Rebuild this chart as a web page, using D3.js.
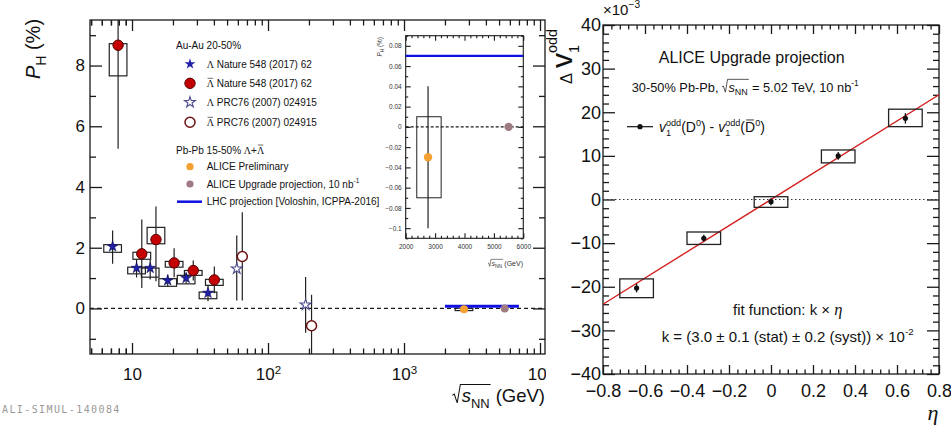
<!DOCTYPE html>
<html>
<head>
<meta charset="utf-8">
<script src="https://cdn.jsdelivr.net/npm/d3@7"></script>
<style>
  body { margin: 0; background: #fff; }
  svg text { white-space: pre; }
</style>
</head>
<body>
<div id="chart"></div>
<script>
// ---------------- left panel: P_H vs sqrt(s_NN) ----------------
// energies as plotted (points are drawn a bit off the nominal energy in the figure)
var lamE       = [7.2, 10.8, 13.6, 18.3, 25.0, 36.2];
var lamP       = [2.04, 1.33, 1.33, 0.92, 1.00, 0.51];
var lamStatHi  = [2.57, 1.62, 1.60, 1.12, 1.18, 0.78];
var lamStatLo  = [1.47, 1.02, 0.95, 0.72, 0.82, 0.24];
var lamSysHi   = [2.10, 1.36, 1.33, 0.98, 1.09, 0.54];
var lamSysLo   = [1.85, 1.14, 1.03, 0.73, 0.81, 0.32];

var alamE      = [7.9, 11.8, 15.0, 20.4, 28.2, 40.3];
var alamP      = [8.67, 1.80, 2.27, 1.50, 1.25, 0.94];
var alamStatHi = [12.0, 2.93, 3.36, 1.98, 1.58, 1.38];
var alamStatLo = [5.26, 0.67, 0.90, 1.03, 0.92, 0.50];
var alamSysHi  = [8.72, 1.85, 2.67, 1.55, 1.25, 0.96];
var alamSysLo  = [7.66, 1.62, 2.13, 1.36, 1.09, 0.76];

var prcLamE  = [58.9, 189], prcLamP  = [1.31, 0.12], prcLamHi  = [2.40, 1.04], prcLamLo  = [0.26, -0.80];
var prcAlamE = [64.7, 209], prcAlamP = [1.71, -0.57], prcAlamHi = [3.17, 0.45], prcAlamLo = [0.26, -1.60];

var prelE = [2760], prelP = [-0.03], prelHi = [0.04], prelLo = [-0.10], prelSysHi = [0.01], prelSysLo = [-0.07];
var upgE = [5500], upgP = [0.0];
var lhcE = [2000, 7000], lhcP = 0.07;

var leftXMajor = [10, 100, 1000, 10000];
var leftYMajor = [0, 2, 4, 6, 8];
var leftYMinor = [-1, 1, 3, 5, 7, 9];
var insetXMajor = [2000, 3000, 4000, 5000, 6000];
var insetYMajor = [-0.1, -0.08, -0.06, -0.04, -0.02, 0, 0.02, 0.04, 0.06, 0.08];

// ---------------- right panel: delta v1 odd vs eta ----------------
var eta      = [-0.64, -0.32, 0, 0.32, 0.64];
var dv1      = [-20.3, -8.9, -0.5, 10.0, 18.6];   // x 10^-3
var dv1Stat  = [1.0, 0.8, 0.8, 0.9, 1.2];
var dv1SysHi = [-18.2, -7.45, 0.64, 11.35, 20.7];
var dv1SysLo = [-22.5, -10.3, -1.8, 8.4, 16.7];
var fitK = 30;   // k = 3.0e-2, in units of 1e-3
var rightXMajor = [-0.8, -0.6, -0.4, -0.2, 0, 0.2, 0.4, 0.6, 0.8];
var rightYMajor = [-40, -30, -20, -10, 0, 10, 20, 30, 40];

var W = 951, H = 426;
var SANS = '"Liberation Sans", Arial, sans-serif';
var SERIF = '"Liberation Serif", "Times New Roman", serif';

var svg = d3.select("#chart").append("svg")
  .attr("width", W).attr("height", H)
  .attr("font-family", SANS);
svg.append("rect").attr("width", W).attr("height", H).attr("fill", "#fff");

// text with sub/superscripts, bars and radicals, laid out piece by piece
function rich(parent, x, y, fs, parts, o) {
  o = o || {};
  var col = o.fill || "#111";
  var g = parent.append("g");
  var inner = g.append("g");
  var cx = 0, pStart = 0, pEnd = 0, radX = 0;
  parts.forEach(function(p) {
    if (typeof p === "string") p = {t: p};
    var size = fs * (p.s || 1), by = (p.dy || 0) * fs;
    if (p.rad === "start") { radX = cx; cx += fs * 0.5; return; }
    if (p.rad === "end") {
      var h = fs * 0.95, r = radX;
      inner.append("path")
        .attr("d", "M" + r + "," + (-fs * 0.36) + "L" + (r + fs * 0.1) + "," + (-fs * 0.43) +
          "L" + (r + fs * 0.26) + "," + (fs * 0.05) + "L" + (r + fs * 0.43) + "," + (-h) +
          "L" + (cx + 1) + "," + (-h))
        .attr("fill", "none").attr("stroke", col).attr("stroke-width", Math.max(0.6, fs * 0.055));
      cx += fs * 0.05;
      return;
    }
    var sx = p.stack ? pStart : cx;
    var t = inner.append("text").attr("x", sx).attr("y", by)
      .attr("font-size", size).attr("fill", col).text(p.t);
    if (p.it) t.attr("font-style", "italic");
    if (p.f) t.attr("font-family", p.f);
    var w = t.node().getComputedTextLength();
    if (p.bar) {
      inner.append("line")
        .attr("x1", sx + w * 0.12).attr("x2", sx + w * 0.88)
        .attr("y1", by - size * 0.86).attr("y2", by - size * 0.86)
        .attr("stroke", col).attr("stroke-width", Math.max(0.6, size * 0.06));
    }
    if (p.stack) cx = Math.max(pEnd, sx + w);
    else { pStart = sx; pEnd = sx + w; cx = sx + w; }
  });
  var a = o.anchor === "end" ? 1 : o.anchor === "middle" ? 0.5 : 0;
  g.attr("transform", "translate(" + x + "," + y + ")" + (o.rot ? " rotate(" + o.rot + ")" : ""));
  inner.attr("transform", "translate(" + (-cx * a) + ",0)");
  return cx;
}

// ROOT-like frame: ticks inward on all four sides
function frameAxes(g, x, y, o) {
  var x0 = x.range()[0], x1 = x.range()[1], yb = y.range()[0], yt = y.range()[1];
  function add(axis, tx, ty) {
    var a = g.append("g").attr("transform", "translate(" + tx + "," + ty + ")").call(axis);
    a.select(".domain").remove();
    a.selectAll("line").attr("stroke", o.color).attr("stroke-width", o.sw);
    a.attr("font-family", o.font || SANS).attr("font-size", o.fs);
    a.selectAll("text").attr("fill", o.textColor || "#111");
    return a;
  }
  var bx = add(d3.axisBottom(x).tickValues(o.xMaj).tickSize(-o.xLen).tickSizeOuter(0)
    .tickPadding(o.xPad).tickFormat(o.xFmt), 0, yb);
  add(d3.axisBottom(x).tickValues(o.xMin).tickSize(-o.xLen / 2).tickSizeOuter(0).tickFormat(""), 0, yb);
  add(d3.axisTop(x).tickValues(o.xMaj).tickSize(-o.xLen).tickSizeOuter(0).tickFormat(""), 0, yt);
  add(d3.axisTop(x).tickValues(o.xMin).tickSize(-o.xLen / 2).tickSizeOuter(0).tickFormat(""), 0, yt);
  var ly = add(d3.axisLeft(y).tickValues(o.yMaj).tickSize(-o.yLen).tickSizeOuter(0)
    .tickPadding(o.yPad).tickFormat(o.yFmt), x0, 0);
  add(d3.axisLeft(y).tickValues(o.yMin).tickSize(-o.yLen / 2).tickSizeOuter(0).tickFormat(""), x0, 0);
  add(d3.axisRight(y).tickValues(o.yMaj).tickSize(-o.yLen).tickSizeOuter(0).tickFormat(""), x1, 0);
  add(d3.axisRight(y).tickValues(o.yMin).tickSize(-o.yLen / 2).tickSizeOuter(0).tickFormat(""), x1, 0);
  g.append("rect").attr("x", x0).attr("y", yt).attr("width", x1 - x0).attr("height", yb - yt)
    .attr("fill", "none").attr("stroke", o.color).attr("stroke-width", o.sw);
  return {bx: bx, ly: ly};
}

var dark = "#1a1a1a";

// ================= LEFT PANEL =================
var xL = d3.scaleLog().domain([4.91, 10880]).range([90, 545]);
var yL = d3.scaleLinear().domain([-1.5, 9.5]).range([354, 20]);
var left = svg.append("g");

var xMinorL = [];
[1, 10, 100, 1000].forEach(function(dec) {
  d3.range(2, 10).forEach(function(k) { xMinorL.push(k * dec); });
});
xMinorL = xMinorL.concat([5, 6, 7, 8, 9]).filter(function(v) { return v > 4.91 && v < 10880 && v !== 10; });

var axL = frameAxes(left, xL, yL, {
  xMaj: leftXMajor, xMin: xMinorL, xLen: 11, xPad: 14, xFmt: function(d) { return ""; },
  yMaj: leftYMajor, yMin: leftYMinor, yLen: 12, yPad: 5, yFmt: d3.format("d"),
  color: dark, sw: 1.3, fs: 17
});
axL.bx.selectAll("text").each(function(d) {
  var e = Math.round(Math.log10(d));
  var t = d3.select(this).text("10");
  if (e > 1) t.append("tspan").attr("dy", "-0.5em").attr("font-size", "0.68em").text(e);
});

var clipL = svg.append("clipPath").attr("id", "clipL").append("rect")
  .attr("x", 90).attr("y", 20).attr("width", 455).attr("height", 334);
var plotL = left.append("g").attr("clip-path", "url(#clipL)");

plotL.append("line")
  .attr("x1", 90).attr("x2", 545).attr("y1", yL(0)).attr("y2", yL(0))
  .attr("stroke", dark).attr("stroke-width", 1.3).attr("stroke-dasharray", "4,3");

var boxHalf = 0.065;   // half width of syst. boxes in decades
function sysBoxes(g, xs, hi, lo, xsc, ysc) {
  g.selectAll(null).data(xs).enter().append("rect")
    .attr("x", function(d) { return xsc(d * Math.pow(10, -boxHalf)); })
    .attr("width", function(d) { return xsc(d * Math.pow(10, boxHalf)) - xsc(d * Math.pow(10, -boxHalf)); })
    .attr("y", function(d, i) { return ysc(hi[i]); })
    .attr("height", function(d, i) { return ysc(lo[i]) - ysc(hi[i]); })
    .attr("fill", "none").attr("stroke", "#222").attr("stroke-width", 1.2);
}
function statBars(g, xs, hi, lo, xsc, ysc, sw) {
  g.selectAll(null).data(xs).enter().append("line")
    .attr("x1", function(d) { return xsc(d); }).attr("x2", function(d) { return xsc(d); })
    .attr("y1", function(d, i) { return ysc(hi[i]); }).attr("y2", function(d, i) { return ysc(lo[i]); })
    .attr("stroke", "#222").attr("stroke-width", sw || 1.2);
}

sysBoxes(plotL, lamE, lamSysHi, lamSysLo, xL, yL);
sysBoxes(plotL, alamE, alamSysHi, alamSysLo, xL, yL);
sysBoxes(plotL, prelE, prelSysHi, prelSysLo, xL, yL);
statBars(plotL, lamE, lamStatHi, lamStatLo, xL, yL);
statBars(plotL, alamE, alamStatHi, alamStatLo, xL, yL);
statBars(plotL, prcLamE, prcLamHi, prcLamLo, xL, yL);
statBars(plotL, prcAlamE, prcAlamHi, prcAlamLo, xL, yL);

var star = d3.symbol().type(d3.symbolStar).size(36);
var colBlue = "#2020a8", colRed = "#c40000", colOrange = "#f4a132", colMauve = "#9e7b82", colLine = "#1010e0";

plotL.append("line")
  .attr("x1", xL(lhcE[0])).attr("x2", xL(lhcE[1])).attr("y1", yL(lhcP)).attr("y2", yL(lhcP))
  .attr("stroke", colLine).attr("stroke-width", 3);

plotL.selectAll(null).data(lamE).enter().append("path").attr("d", star)
  .attr("transform", function(d, i) { return "translate(" + xL(d) + "," + yL(lamP[i]) + ")"; })
  .attr("fill", colBlue).attr("stroke", "#0b0b55").attr("stroke-width", 0.6);
plotL.selectAll(null).data(alamE).enter().append("circle")
  .attr("cx", function(d) { return xL(d); }).attr("cy", function(d, i) { return yL(alamP[i]); })
  .attr("r", 5.2).attr("fill", colRed).attr("stroke", "#500").attr("stroke-width", 1);
plotL.selectAll(null).data(prcLamE).enter().append("path").attr("d", star)
  .attr("transform", function(d, i) { return "translate(" + xL(d) + "," + yL(prcLamP[i]) + ")"; })
  .attr("fill", "#fff").attr("stroke", "#4a4a8c").attr("stroke-width", 1.1);
plotL.selectAll(null).data(prcAlamE).enter().append("circle")
  .attr("cx", function(d) { return xL(d); }).attr("cy", function(d, i) { return yL(prcAlamP[i]); })
  .attr("r", 5).attr("fill", "#fff").attr("stroke", "#6b1010").attr("stroke-width", 1.5);
plotL.selectAll(null).data(prelE).enter().append("circle")
  .attr("cx", function(d) { return xL(d); }).attr("cy", function(d, i) { return yL(prelP[i]); })
  .attr("r", 4).attr("fill", colOrange);
plotL.selectAll(null).data(upgE).enter().append("circle")
  .attr("cx", function(d) { return xL(d); }).attr("cy", function(d, i) { return yL(upgP[i]); })
  .attr("r", 4).attr("fill", colMauve);

// legend
var lg = left.append("g");
rich(lg, 176, 48.5, 10, ["Au-Au 20-50%"]);
var legRows = [
  {y: 64, mk: "star", parts: [{t: "Λ", f: SERIF}, " Nature 548 (2017) 62"]},
  {y: 83.3, mk: "circle", parts: [{t: "Λ", f: SERIF, bar: true}, " Nature 548 (2017) 62"]},
  {y: 102.3, mk: "ostar", parts: [{t: "Λ", f: SERIF}, " PRC76 (2007) 024915"]},
  {y: 122.3, mk: "ocircle", parts: [{t: "Λ", f: SERIF, bar: true}, " PRC76 (2007) 024915"]}
];
legRows.forEach(function(r) {
  if (r.mk === "star") lg.append("path").attr("d", star).attr("transform", "translate(190," + r.y + ")").attr("fill", colBlue);
  if (r.mk === "ostar") lg.append("path").attr("d", star).attr("transform", "translate(190," + r.y + ")").attr("fill", "#fff").attr("stroke", "#4a4a8c").attr("stroke-width", 1.1);
  if (r.mk === "circle") lg.append("circle").attr("cx", 190).attr("cy", r.y).attr("r", 5.2).attr("fill", colRed).attr("stroke", "#500");
  if (r.mk === "ocircle") lg.append("circle").attr("cx", 190).attr("cy", r.y).attr("r", 5).attr("fill", "#fff").attr("stroke", "#6b1010").attr("stroke-width", 1.5);
  rich(lg, 206.7, r.y + 3.6, 10, r.parts);
});
rich(lg, 176, 153.6, 10, ["Pb-Pb 15-50% ", {t: "Λ", f: SERIF}, "+", {t: "Λ", f: SERIF, bar: true}]);
lg.append("circle").attr("cx", 190).attr("cy", 166.7).attr("r", 3.6).attr("fill", colOrange);
rich(lg, 206.7, 170.3, 10, ["ALICE Preliminary"]);
lg.append("circle").attr("cx", 190).attr("cy", 184).attr("r", 3.6).attr("fill", colMauve);
rich(lg, 206.7, 187.6, 10, ["ALICE Upgrade projection, 10 nb", {t: "-1", s: 0.65, dy: -0.45}]);
lg.append("line").attr("x1", 177).attr("x2", 202).attr("y1", 201.7).attr("y2", 201.7)
  .attr("stroke", colLine).attr("stroke-width", 2.5);
rich(lg, 206.7, 205.3, 10, ["LHC projection [Voloshin, ICPPA-2016]"]);

// axis titles
rich(svg, 40, 49, 20, [{t: "P", it: true}, {t: "H", s: 0.7, dy: 0.3}, " (%)"], {anchor: "middle", rot: -90});
rich(svg, 545, 402, 18.5, [{rad: "start"}, {t: "s", it: true}, {t: "NN", s: 0.7, dy: 0.3}, {rad: "end"}, " (GeV)"], {anchor: "end"});

// ---------------- inset ----------------
var xI = d3.scaleLinear().domain([2000, 6000]).range([405.7, 523.3]);
var yI = d3.scaleLinear().domain([-0.11, 0.09]).range([238.3, 35.7]);
var inset = left.append("g");
inset.append("rect").attr("x", 405.7).attr("y", 35.7).attr("width", 117.6).attr("height", 202.6).attr("fill", "#fff");
var insetYMinor = d3.range(-11, 10).map(function(v) { return v / 100; })
  .filter(function(v) { return Math.abs(Math.round(v * 100)) % 2 === 1; });
var insetXMinor = d3.range(2000, 6001, 200).filter(function(v) { return v % 1000 !== 0; });
frameAxes(inset, xI, yI, {
  xMaj: insetXMajor, xMin: insetXMinor, xLen: 5, xPad: 6, xFmt: d3.format("d"),
  yMaj: insetYMajor, yMin: insetYMinor, yLen: 5, yPad: 4, yFmt: d3.format(".2~f"),
  color: dark, sw: 1.1, fs: 6.5, textColor: "#333"
});
inset.append("line").attr("x1", 405.7).attr("x2", 523.3).attr("y1", yI(lhcP)).attr("y2", yI(lhcP))
  .attr("stroke", colLine).attr("stroke-width", 2.2);
inset.append("line").attr("x1", 405.7).attr("x2", 523.3).attr("y1", yI(0)).attr("y2", yI(0))
  .attr("stroke", dark).attr("stroke-width", 1.3).attr("stroke-dasharray", "3,2");
inset.selectAll(null).data(prelE).enter().append("rect")
  .attr("x", function(d) { return xI(d * Math.pow(10, -boxHalf)); })
  .attr("width", function(d) { return xI(d * Math.pow(10, boxHalf)) - xI(d * Math.pow(10, -boxHalf)); })
  .attr("y", function(d, i) { return yI(prelSysHi[i]); })
  .attr("height", function(d, i) { return yI(prelSysLo[i]) - yI(prelSysHi[i]); })
  .attr("fill", "none").attr("stroke", "#222").attr("stroke-width", 1);
statBars(inset, prelE, prelHi, prelLo, xI, yI, 1.2);
inset.selectAll(null).data(prelE).enter().append("circle")
  .attr("cx", function(d) { return xI(d); }).attr("cy", function(d, i) { return yI(prelP[i]); })
  .attr("r", 4.2).attr("fill", colOrange);
inset.selectAll(null).data(upgE).enter().append("circle")
  .attr("cx", function(d) { return xI(d); }).attr("cy", function(d, i) { return yI(upgP[i]); })
  .attr("r", 4.2).attr("fill", colMauve);
rich(inset, 382, 37, 6.5, [{t: "P", it: true}, {t: "H", s: 0.7, dy: 0.3}, " (%)"], {rot: -90, anchor: "end", fill: "#333"});
rich(inset, 523, 266, 7, [{rad: "start"}, {t: "s", it: true}, {t: "NN", s: 0.7, dy: 0.3}, {rad: "end"}, " (GeV)"], {anchor: "end", fill: "#333"});

svg.append("text").attr("x", 2).attr("y", 413).attr("font-family", '"DejaVu Sans Mono", monospace')
  .attr("font-size", 10).attr("letter-spacing", 1.4).attr("fill", "#9a9a9a").text("ALI-SIMUL-140084");

// ================= RIGHT PANEL =================
svg.append("rect").attr("x", 546).attr("y", 0).attr("width", W - 546).attr("height", H).attr("fill", "#fff");
var right = svg.append("g");
var xR = d3.scaleLinear().domain([-0.8, 0.8]).range([603, 939]);
var yR = d3.scaleLinear().domain([-40, 40]).range([374, 25]);
var rightXMinor = d3.range(-20, 21).filter(function(i) { return i % 5 !== 0; }).map(function(i) { return i * 0.04; });
var rightYMinor = d3.range(-40, 41, 2).filter(function(v) { return v % 10 !== 0; });
frameAxes(right, xR, yR, {
  xMaj: rightXMajor, xMin: rightXMinor, xLen: 9, xPad: 10,
  xFmt: function(d) { return d === 0 ? "0" : d3.format(".1f")(d); },
  yMaj: rightYMajor, yMin: rightYMinor, yLen: 12, yPad: 2, yFmt: d3.format("d"),
  color: dark, sw: 1.3, fs: 18
});

right.append("line").attr("x1", 603).attr("x2", 939).attr("y1", yR(0)).attr("y2", yR(0))
  .attr("stroke", "#333").attr("stroke-width", 1).attr("stroke-dasharray", "1.5,2.5");

var clipR = svg.append("clipPath").attr("id", "clipR").append("rect")
  .attr("x", 603).attr("y", 25).attr("width", 336).attr("height", 349);
var plotR = right.append("g").attr("clip-path", "url(#clipR)");
plotR.append("line")
  .attr("x1", xR(-0.8)).attr("x2", xR(0.8)).attr("y1", yR(-0.8 * fitK)).attr("y2", yR(0.8 * fitK))
  .attr("stroke", "#d42020").attr("stroke-width", 1.4);

var etaHalf = 0.08;
plotR.selectAll(null).data(eta).enter().append("rect")
  .attr("x", function(d) { return xR(d - etaHalf); })
  .attr("width", function(d) { return xR(d + etaHalf) - xR(d - etaHalf); })
  .attr("y", function(d, i) { return yR(dv1SysHi[i]); })
  .attr("height", function(d, i) { return yR(dv1SysLo[i]) - yR(dv1SysHi[i]); })
  .attr("fill", "none").attr("stroke", "#222").attr("stroke-width", 1.3);
plotR.selectAll(null).data(eta).enter().append("line")
  .attr("x1", function(d) { return xR(d); }).attr("x2", function(d) { return xR(d); })
  .attr("y1", function(d, i) { return yR(dv1[i] + dv1Stat[i]); })
  .attr("y2", function(d, i) { return yR(dv1[i] - dv1Stat[i]); })
  .attr("stroke", "#111").attr("stroke-width", 1.3);
plotR.selectAll(null).data(eta).enter().append("circle")
  .attr("cx", function(d) { return xR(d); }).attr("cy", function(d, i) { return yR(dv1[i]); })
  .attr("r", 2.6).attr("fill", "#111");

// texts
rich(right, 751.7, 63, 16, ["ALICE Upgrade projection"], {anchor: "middle"});
rich(right, 631.7, 91.5, 12.8, ["30-50% Pb-Pb, ", {rad: "start"}, {t: "s", it: true}, {t: "NN", s: 0.7, dy: 0.3},
  {rad: "end"}, " = 5.02 TeV, 10 nb", {t: "-1", s: 0.65, dy: -0.45}]);
right.append("line").attr("x1", 627).attr("x2", 653).attr("y1", 126.7).attr("y2", 126.7)
  .attr("stroke", "#111").attr("stroke-width", 1.2);
right.append("circle").attr("cx", 640).attr("cy", 126.7).attr("r", 2.6).attr("fill", "#111");
rich(right, 659, 132, 14, [
  {t: "v", it: true}, {t: "1", s: 0.65, dy: 0.3}, {t: "odd", s: 0.65, dy: -0.45, stack: true},
  "(D", {t: "0", s: 0.65, dy: -0.45}, ") - ",
  {t: "v", it: true}, {t: "1", s: 0.65, dy: 0.3}, {t: "odd", s: 0.65, dy: -0.45, stack: true},
  "(", {t: "D", bar: true}, {t: "0", s: 0.65, dy: -0.45}, ")"
]);
rich(right, 733, 315, 15, ["fit function: k × ", {t: "η", it: true, f: SERIF, s: 1.1}]);
rich(right, 661.7, 342, 15, ["k = (3.0 ± 0.1 (stat) ± 0.2 (syst)) × 10", {t: "-2", s: 0.65, dy: -0.45}]);

rich(right, 603, 15, 15, ["×10", {t: "−3", s: 0.68, dy: -0.45}]);
rich(right, 572, 84, 30, [{t: "Δ", s: 0.55}, {t: " ", s: 0.6}, {t: "v"}, {t: "1", s: 0.48, dy: 0.22},
  {t: "odd", s: 0.48, dy: -0.5, stack: true}], {rot: -90});
rich(right, 933, 420, 22, [{t: "η", it: true, f: SERIF}], {anchor: "middle"});
</script>
</body>
</html>
